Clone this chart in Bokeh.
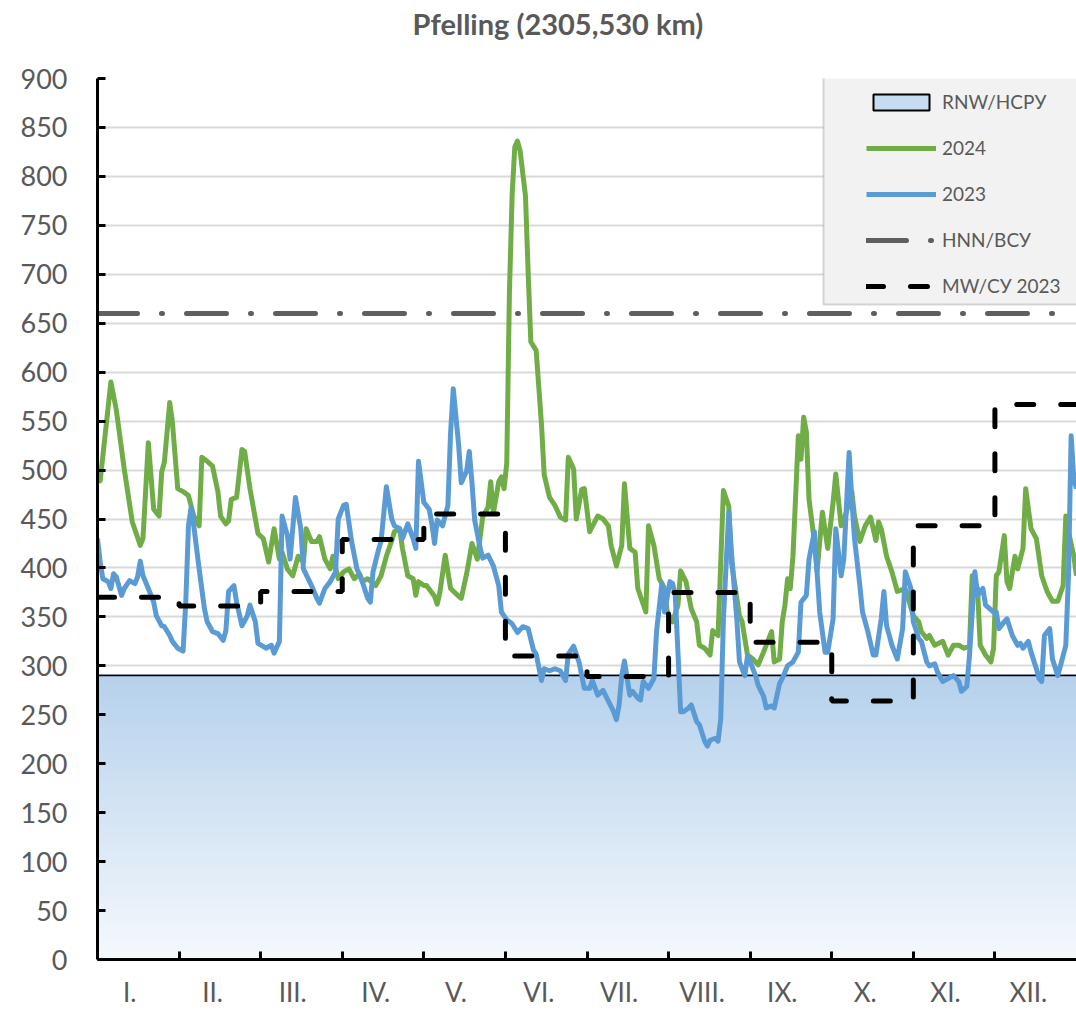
import numpy as np
from bokeh.plotting import figure
from bokeh.models import Range1d, FixedTicker, Legend, LegendItem, BoxAnnotation
from bokeh.embed import file_html
from bokeh.resources import INLINE

TITLE = "Pfelling  (2305,530 km)"
MONTH_LABELS = ["I.", "II.", "III.", "IV.", "V.", "VI.", "VII.", "VIII.", "IX.", "X.", "XI.", "XII."]
DAYS_IN_YEAR = 366
RNW = 290
HNN = 660
MW_2023 = [370, 361, 376, 429, 455, 310, 289, 375, 324, 264, 443, 567]
Y_TICKS = list(range(0, 901, 50))

DAY_2024 = [0, 1, 5, 7, 10, 13, 16, 17, 19, 21, 23, 24, 25, 27, 28, 30, 32, 34, 36, 38,
            39, 41, 43, 45, 46, 48, 49, 50, 52, 54, 55, 57, 60, 62, 64, 66, 68, 69, 71, 73,
            75, 77, 78, 80, 82, 83, 85, 87, 88, 90, 92, 94, 96, 98, 99, 101, 104, 106, 108, 110,
            111, 113, 114, 116, 118, 119, 120, 122, 123, 126, 127, 128, 130, 132, 135, 136, 138, 140, 142, 144,
            146, 147, 148, 150, 151, 152, 153, 154, 155, 156, 157, 158, 160, 161, 162, 164, 166, 167, 169, 171,
            173, 175, 176, 178, 179, 181, 182, 184, 187, 189, 191, 192, 194, 196, 197, 199, 201, 202, 205, 206,
            208, 210, 212, 213, 215, 217, 218, 220, 222, 224, 225, 227, 229, 230, 232, 234, 236, 237, 240, 241,
            243, 245, 247, 249, 252, 253, 255, 256, 257, 258, 259, 260, 262, 263, 264, 265, 266, 268, 269, 271,
            273, 275, 276, 278, 280, 282, 283, 285, 287, 289, 291, 292, 293, 295, 297, 299, 302, 305, 307, 308,
            310, 311, 313, 316, 318, 320, 322, 324, 326, 327, 329, 330, 332, 334, 335, 336, 337, 339, 340, 341,
            343, 344, 346, 347, 349, 351, 353, 355, 357, 359, 361, 362, 363, 365, 366]
Q_2024 = [498, 489, 590, 562, 501, 447, 423, 430, 528, 460, 453, 498, 508, 569, 549, 481, 478, 474, 453, 443,
          513, 509, 504, 478, 453, 445, 448, 470, 472, 521, 519, 481, 435, 430, 406, 440, 409, 416, 399, 392,
          412, 406, 440, 427, 427, 432, 409, 399, 412, 389, 396, 399, 389, 394, 386, 389, 382, 392, 412, 428,
          437, 440, 420, 392, 389, 372, 386, 382, 382, 371, 363, 375, 413, 379, 371, 369, 394, 425, 409, 452,
          462, 488, 456, 488, 493, 481, 507, 682, 780, 830, 836, 826, 780, 702, 631, 622, 546, 495, 472, 464,
          452, 449, 513, 501, 450, 480, 481, 437, 453, 450, 443, 423, 402, 423, 486, 420, 416, 379, 355, 443,
          423, 389, 379, 355, 345, 362, 397, 386, 358, 345, 321, 318, 311, 336, 331, 479, 463, 406, 351, 345,
          311, 307, 301, 314, 335, 304, 307, 345, 362, 389, 379, 412, 535, 511, 554, 539, 470, 427, 396, 457,
          420, 467, 496, 443, 457, 478, 453, 427, 443, 452, 428, 447, 440, 412, 396, 376, 379, 351, 345, 335,
          328, 331, 321, 325, 311, 321, 321, 318, 320, 392, 379, 321, 311, 304, 318, 392, 396, 433, 386, 379,
          412, 399, 420, 481, 440, 430, 392, 376, 366, 366, 382, 453, 437, 412, 392]

DAY_2023 = [0, 1, 2, 4, 5, 6, 7, 9, 10, 12, 14, 15, 16, 17, 19, 21, 22, 24, 25, 27,
            28, 30, 32, 33, 34, 35, 36, 38, 40, 41, 43, 45, 47, 48, 49, 51, 52, 54, 56, 57,
            59, 60, 63, 65, 66, 68, 69, 71, 72, 74, 76, 77, 80, 82, 83, 85, 87, 89, 90, 92,
            93, 95, 97, 99, 101, 102, 103, 105, 106, 108, 110, 111, 113, 114, 116, 118, 119, 120, 122, 124,
            125, 126, 127, 129, 131, 132, 133, 135, 136, 138, 139, 140, 141, 143, 144, 146, 148, 150, 151, 153,
            155, 157, 159, 161, 163, 164, 166, 167, 169, 171, 173, 175, 176, 178, 180, 182, 184, 185, 187, 189,
            191, 193, 194, 195, 196, 197, 199, 200, 202, 203, 204, 206, 208, 209, 211, 212, 214, 215, 216, 217,
            218, 219, 221, 222, 224, 225, 227, 228, 229, 231, 232, 233, 234, 236, 237, 239, 240, 242, 243, 244,
            246, 247, 249, 250, 252, 253, 255, 256, 258, 260, 262, 263, 265, 266, 268, 269, 270, 272, 273, 275,
            276, 278, 279, 281, 282, 283, 285, 286, 288, 290, 291, 293, 294, 295, 297, 299, 301, 302, 304, 305,
            307, 308, 310, 311, 313, 314, 316, 318, 320, 322, 323, 325, 326, 328, 329, 331, 332, 335, 336, 337,
            339, 340, 342, 344, 345, 346, 348, 349, 351, 352, 353, 354, 356, 357, 359, 360, 362, 363, 364, 365,
            366]
Q_2023 = [430, 406, 389, 386, 379, 394, 391, 372, 379, 387, 384, 391, 407, 392, 379, 365, 351, 341, 340, 331,
          325, 318, 315, 365, 443, 462, 443, 399, 358, 345, 335, 333, 326, 336, 376, 382, 365, 341, 351, 362,
          345, 323, 318, 321, 313, 325, 453, 433, 409, 472, 440, 399, 382, 369, 364, 379, 386, 396, 450, 464,
          465, 427, 399, 386, 369, 365, 396, 418, 427, 483, 450, 443, 440, 430, 445, 430, 420, 509, 467, 460,
          445, 425, 449, 443, 464, 538, 583, 526, 487, 499, 519, 487, 449, 421, 410, 413, 402, 382, 355, 347,
          343, 334, 340, 338, 316, 312, 285, 297, 295, 297, 295, 285, 312, 320, 304, 277, 277, 285, 270, 275,
          264, 253, 245, 260, 290, 305, 270, 274, 267, 265, 284, 277, 287, 335, 384, 355, 386, 384, 372, 314,
          253, 253, 257, 260, 243, 240, 223, 218, 224, 226, 223, 246, 348, 457, 416, 348, 304, 290, 310, 304,
          290, 280, 269, 257, 259, 257, 282, 287, 300, 304, 314, 365, 372, 409, 437, 396, 355, 314, 314, 348,
          440, 392, 409, 518, 470, 430, 382, 355, 335, 311, 311, 348, 376, 341, 321, 307, 338, 396, 380, 345,
          328, 325, 304, 300, 302, 294, 284, 287, 290, 284, 274, 279, 311, 396, 372, 379, 362, 355, 355, 338,
          345, 348, 331, 321, 323, 318, 325, 314, 297, 287, 284, 331, 338, 307, 290, 300, 321, 392, 535, 491,
          481]

FONT = "Lato"
TEXT_GREY = "#595959"

p = figure(width=1076, height=1010, x_range=Range1d(0, DAYS_IN_YEAR), y_range=Range1d(0, 900),
           output_backend="svg", toolbar_location=None, title=TITLE + "\n",
           min_border_left=97, min_border_right=0, min_border_top=78, min_border_bottom=48)
p.outline_line_color = None
p.background_fill_color = "white"

p.title.text_font = FONT
p.title.text_font_style = "bold"
p.title.text_font_size = "29px"
p.title.text_color = TEXT_GREY
p.title.align = "left"
p.title.offset = 315
p.title.standoff = 6

# RNW area: full quad (legend swatch) covered by gradient bands
r_rnw = p.quad(left=[0], right=[DAYS_IN_YEAR], bottom=[0], top=[RNW], fill_color="#c6dcf1",
               line_color="black", line_width=2)
n_bands = 60
edges = np.linspace(0, RNW, n_bands + 1)
top_rgb = np.array([0xB6, 0xD1, 0xEC])
bot_rgb = np.array([0xF5, 0xF9, 0xFD])
band_colors = []
for i in range(n_bands):
    t = (i + 0.5) / n_bands
    c = bot_rgb + (top_rgb - bot_rgb) * t
    band_colors.append("#%02x%02x%02x" % tuple(int(round(v)) for v in c))
p.quad(left=0, right=DAYS_IN_YEAR, bottom=edges[:-1], top=edges[1:],
       fill_color=band_colors, line_color=band_colors, line_width=2.5)
p.line(x=[0, DAYS_IN_YEAR], y=[RNW, RNW], line_color="black", line_width=1.5)

r_2024 = p.line(DAY_2024, Q_2024, line_color="#70ad47", line_width=5, line_join="round")
r_2023 = p.line(DAY_2023, Q_2023, line_color="#5b9bd5", line_width=5, line_join="round")
r_hnn = p.line(x=[0, DAYS_IN_YEAR], y=[HNN, HNN], line_color="#5f5f5f", line_width=5,
               line_dash="40 24 1 24", line_cap="round")
boundaries = [i * DAYS_IN_YEAR / 12 for i in range(13)]
r_mw = p.step(x=boundaries, y=MW_2023 + [MW_2023[-1]], mode="after", line_color="black",
              line_width=5, line_dash="17 27", line_cap="round")

# axes
p.xgrid.visible = False
p.ygrid.ticker = FixedTicker(ticks=Y_TICKS)
p.ygrid.grid_line_color = "#d9d9d9"
p.ygrid.grid_line_width = 2

p.yaxis.ticker = FixedTicker(ticks=Y_TICKS)
p.yaxis.axis_line_color = "black"
p.yaxis.axis_line_width = 3
p.yaxis.major_tick_in = 8
p.yaxis.major_tick_out = 0
p.yaxis.major_tick_line_width = 3
p.yaxis.major_tick_line_color = "black"
p.yaxis.minor_tick_line_color = None
p.yaxis.major_label_text_font = FONT
p.yaxis.major_label_text_font_size = "27px"
p.yaxis.major_label_text_color = TEXT_GREY
p.yaxis.major_label_standoff = 30

centers = [int(round((i + 0.5) * DAYS_IN_YEAR / 12 - 3)) for i in range(12)]
p.xaxis.ticker = FixedTicker(ticks=centers, minor_ticks=boundaries[1:-1])
p.xaxis.major_label_overrides = {c: lab for c, lab in zip(centers, MONTH_LABELS)}
p.xaxis.axis_line_color = "black"
p.xaxis.axis_line_width = 3
p.xaxis.major_tick_line_color = None
p.xaxis.minor_tick_in = 8
p.xaxis.minor_tick_out = 0
p.xaxis.minor_tick_line_width = 3
p.xaxis.minor_tick_line_color = "black"
p.xaxis.major_label_text_font = FONT
p.xaxis.major_label_text_font_size = "26px"
p.xaxis.major_label_text_color = TEXT_GREY
p.xaxis.major_label_standoff = 10

# legend box
box = BoxAnnotation(left=726, right=981, bottom=655, top=887,
                    left_units="screen", right_units="screen", top_units="screen", bottom_units="screen",
                    fill_color="#f2f2f2", fill_alpha=1, line_color="#7f7f7f", line_width=2)
p.add_layout(box)

legend = Legend(items=[
    LegendItem(label="RNW/НСРУ", renderers=[r_rnw]),
    LegendItem(label="2024", renderers=[r_2024]),
    LegendItem(label="2023", renderers=[r_2023]),
    LegendItem(label="HNN/ВСУ", renderers=[r_hnn]),
    LegendItem(label="MW/СУ 2023", renderers=[r_mw]),
], location="top_right")
legend.margin = 12
legend.padding = 12
legend.spacing = 23
legend.glyph_width = 70
legend.glyph_height = 20
legend.label_height = 20
legend.label_width = 122
legend.label_standoff = 6
legend.label_text_font = FONT
legend.label_text_font_size = "19px"
legend.label_text_color = TEXT_GREY
legend.background_fill_alpha = 0
legend.border_line_color = None
p.add_layout(legend)

open("out.html", "w").write(file_html(p, INLINE))
